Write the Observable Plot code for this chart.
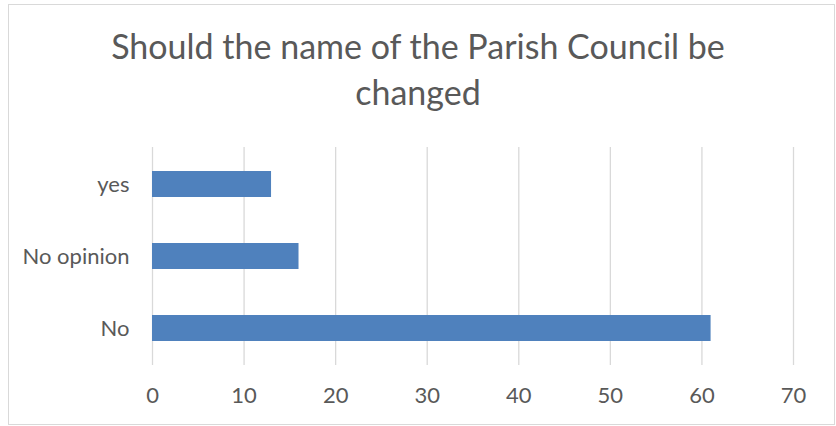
<!DOCTYPE html>
<html>
<head>
<meta charset="utf-8">
<script src="https://cdn.jsdelivr.net/npm/d3@7"></script>
<script src="https://cdn.jsdelivr.net/npm/@observablehq/plot@0.6"></script>
<style>
  html, body { margin: 0; padding: 0; background: #fff; }
  #wrap { position: relative; width: 836px; height: 426px; }
  #frame { position: absolute; left: 8px; top: 4px; width: 825px; height: 419px; border: 1px solid #d9d9d9; box-sizing: content-box; pointer-events: none; }
  #title { position: absolute; left: 0; top: 23px; width: 836px; text-align: center; font-family: Lato, "Open Sans", sans-serif; font-size: 34px; line-height: 46px; color: #595959; }
  #chart { position: absolute; left: 0; top: 0; }
</style>
</head>
<body>
<div id="wrap">
  <div id="frame"></div>
  <div id="chart"></div>
  <div id="title">Should the name of the Parish Council be<br>changed</div>
</div>
<script>
const categories = ["yes", "No opinion", "No"];
const values = [13, 16, 61];
const xTicks = [0, 10, 20, 30, 40, 50, 60, 70];

const data = categories.map((c, i) => ({category: c, value: values[i]}));

const chart = Plot.plot({
  width: 836,
  height: 426,
  marginLeft: 152,
  marginRight: 43,
  marginTop: 147,
  marginBottom: 61,
  style: {fontFamily: "Lato, 'Open Sans', sans-serif", fontSize: "22px", color: "#595959", background: "transparent", overflow: "visible"},
  x: {domain: [0, 70], ticks: xTicks, label: null, tickSize: 0, tickPadding: 22},
  y: {domain: categories, label: null, tickSize: 0, tickPadding: 23, paddingInner: 0.64, paddingOuter: 0.32},
  marks: [
    Plot.gridX(xTicks, {stroke: "#d9d9d9", strokeOpacity: 1, strokeWidth: 1.3}),
    Plot.barX(data, {x: "value", y: "category", fill: "#4f81bd"})
  ]
});
document.getElementById("chart").appendChild(chart);
</script>
</body>
</html>
